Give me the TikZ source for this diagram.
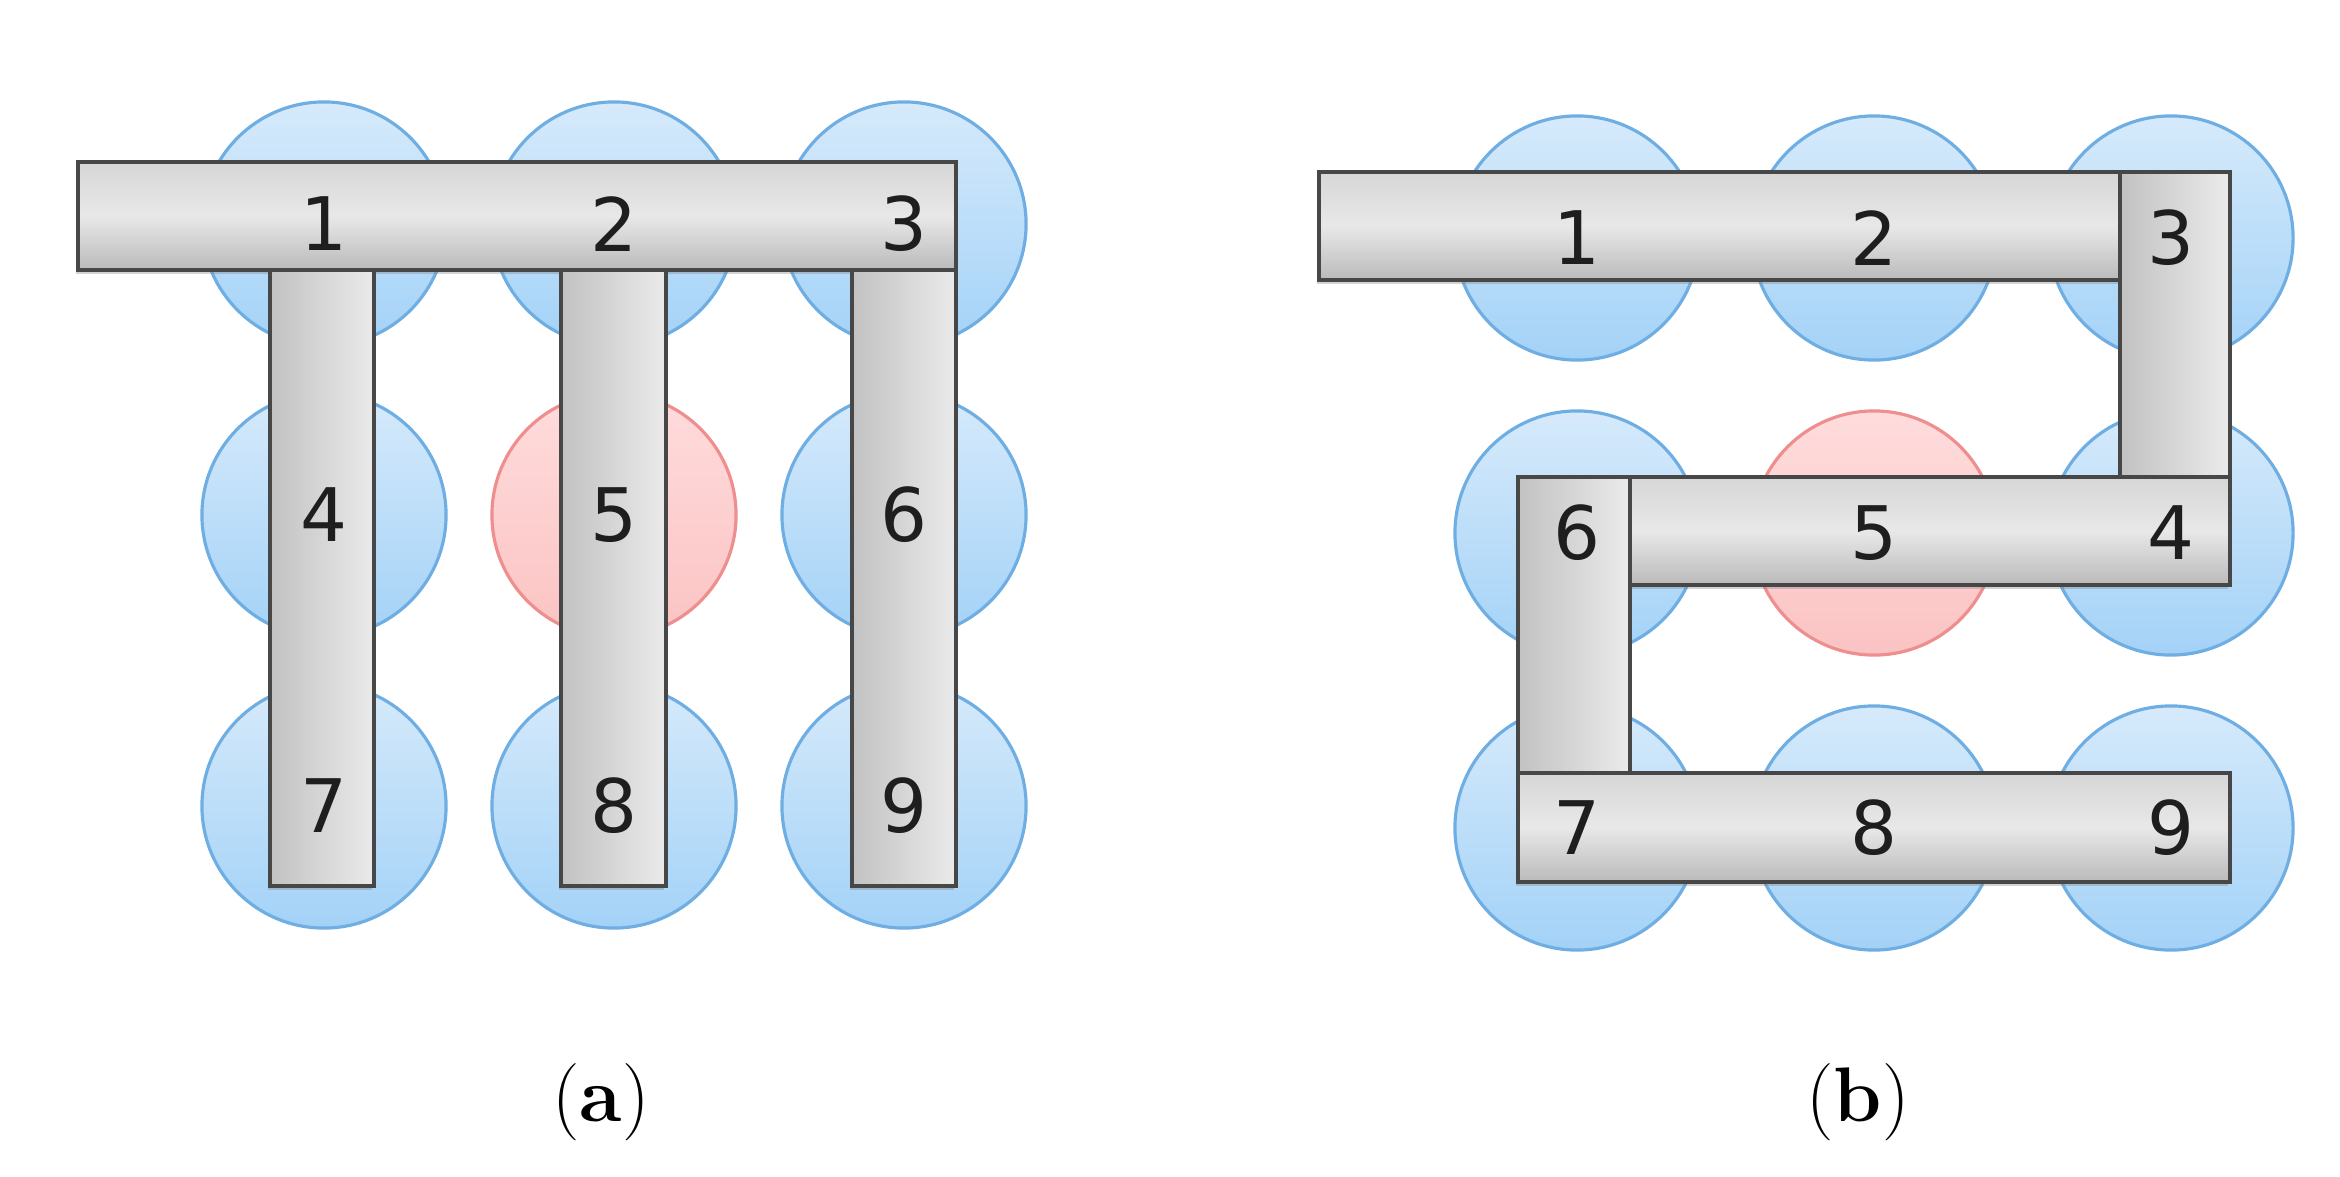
\documentclass[tikz,border=0pt]{standalone}
\usepackage{xcolor}
\usepackage{tikz}
\usepackage{fontspec}
\newfontfamily\digitfont{DejaVu Sans}
\usetikzlibrary{calc,shadows,positioning}
\definecolor{celltop}{HTML}{D6EAFB}
\definecolor{cellbot}{HTML}{A3D2F7}
\definecolor{celledge}{HTML}{6FAEE3}
\definecolor{holetop}{HTML}{FFDCDC}
\definecolor{holebot}{HTML}{FBC3C3}
\definecolor{holeedge}{HTML}{EE8E8E}
\definecolor{baredge}{HTML}{474747}
\definecolor{numtext}{HTML}{1E1E1E}

\begin{document}
\begin{tikzpicture}[x=0.01cm,y=-0.01cm,
                    cell/.style={circle,draw=celledge,line width=0.9pt,top color=celltop,bottom color=cellbot,minimum size=2.44cm,inner sep=0pt},
                    hole/.style={cell,draw=holeedge,top color=holetop,bottom color=holebot},
                    hbar/.style={draw=baredge,line width=1.1pt,top color=black!16,bottom color=black!27,middle color=black!9,
                                 drop shadow={shadow xshift=-0.6pt,shadow yshift=-1pt,opacity=0.35}},
                    vbar/.style={draw=baredge,line width=1.1pt,left color=black!24,right color=black!8,
                                 drop shadow={shadow xshift=-0.6pt,shadow yshift=-1pt,opacity=0.35}},
                    num/.style={font=\digitfont\fontsize{21}{25}\selectfont,text=numtext,inner sep=0pt},
                    caption/.style={font=\fontsize{22}{26}\selectfont,inner sep=0pt}]
\useasboundingbox (0,0) rectangle (2340,1176);

% (a) grid of cells
\foreach \k/\kind in {1/cell,2/cell,3/cell,4/cell,5/hole,6/cell,7/cell,8/cell,9/cell}
   {\pgfmathtruncatemacro{\cx}{mod(\k-1,3)}
    \pgfmathtruncatemacro{\cy}{div(\k-1,3)}
    \node[\kind] (a\k) at (324+290*\cx,224+291*\cy) {};}

% (a) bars
\draw[hbar] (78,162) rectangle (956,270);
\draw[vbar] (270,270) rectangle (374,886);
\draw[vbar] (561,270) rectangle (666,886);
\draw[vbar] (852,270) rectangle (956,886);

\foreach \k in {1,...,9}
    \node[num] (na\k) at (a\k) {\k};

% (b) grid of cells, numbered along the snake
\foreach \k/\cx/\cy/\kind in {1/0/0/cell,2/1/0/cell,3/2/0/cell,4/2/1/cell,5/1/1/hole,
                              6/0/1/cell,7/0/2/cell,8/1/2/cell,9/2/2/cell}
    \node[\kind] (b\k) at (1577+297*\cx,238+295*\cy) {};

% (b) bars
\draw[hbar] (1319,172) rectangle (2120,280);
\draw[vbar] (2120,172) rectangle (2230,477);
\draw[hbar] (1630,477) rectangle (2230,585);
\draw[vbar] (1518,477) rectangle (1630,773);
\draw[hbar] (1518,773) rectangle (2230,882);

\foreach \k in {1,...,9}
    \node[num] (nb\k) at (b\k) {\k};

\node[caption] (CapA) at (601,1102) {(\textbf{a})};
\node[caption] (CapB) at (1858,1102) {(\textbf{b})};

\end{tikzpicture}
\end{document}
